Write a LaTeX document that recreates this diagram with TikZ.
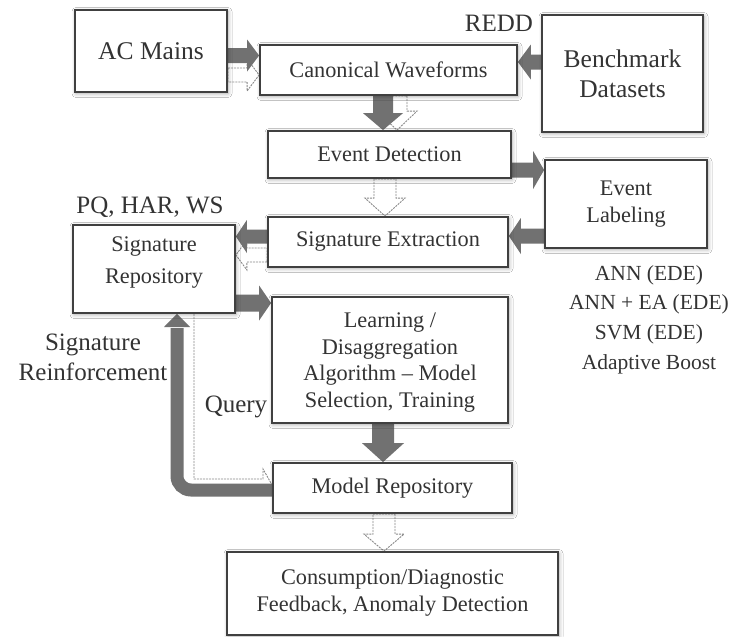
\documentclass[tikz,border=0pt]{standalone}
\usepackage{fontspec}
\IfFontExistsTF{LiberationSerif-Regular.ttf}
  {\setmainfont{LiberationSerif}[Extension=.ttf, UprightFont=*-Regular,
     BoldFont=*-Bold, ItalicFont=*-Italic, BoldItalicFont=*-BoldItalic]}
  {\setmainfont{Liberation Serif}}
\usetikzlibrary{calc,shadows.blur,backgrounds}

\definecolor{boxline}{HTML}{404040}
\definecolor{arrowfill}{HTML}{717171}
\definecolor{hollowline}{HTML}{8A8A8A}
\definecolor{textgray}{HTML}{333333}

% Block arrow: style, start, tip, shaft half-width, head half-width, head length
\newcommand\blockarrow[6]{%
  \coordinate (ba-base) at ($(#3)!#6!(#2)$);
  \path[#1] ($(#2)!#4!90:(#3)$) -- ($(ba-base)!#4!90:(#3)$)
    -- ($(ba-base)!#5!90:(#3)$) -- (#3) -- ($(ba-base)!#5!-90:(#3)$)
    -- ($(ba-base)!#4!-90:(#3)$) -- ($(#2)!#4!-90:(#3)$) -- cycle;
}

\tikzset{
  box/.style={draw=boxline, line width=1.8pt, fill=white, text=textgray,
    align=center, inner sep=0pt, font=\rmfamily\fontsize{22.3}{27}\selectfont,
    blur shadow={shadow xshift=1pt, shadow yshift=-1.5pt,
      shadow blur radius=4pt, shadow opacity=35}},
  bigbox/.style={box, font=\rmfamily\fontsize{25.5}{30}\selectfont},
  boxtext/.style={text=textgray, align=center, inner sep=0pt,
    font=\rmfamily\fontsize{22.3}{27}\selectfont},
  sidelabel/.style={text=textgray, align=center, inner sep=0pt,
    font=\rmfamily\fontsize{25}{29.7}\selectfont},
  solidarrow/.style={fill=arrowfill},
  hollowarrow/.style={fill=white, draw=hollowline, line width=0.9pt,
    dash pattern=on 2pt off 1pt, line join=miter},
  queryline/.style={draw=hollowline, line width=0.9pt, dash pattern=on 2pt off 1pt},
}

\begin{document}
\begin{tikzpicture}[x=1pt, y=-1pt]
\useasboundingbox (0,0) rectangle (731,637);

% positions used by the connectors
\coordinate (rf-corner) at (177,490);
\coordinate (rf-head) at (177,327);
\coordinate (q-corner) at (194,479);
\coordinate (q-end) at (263,479);
\coordinate (q-notch) at (263,469);

% ---------- boxes ----------
\node[bigbox, minimum width=152pt, minimum height=82pt] (ac) at (151,51) {AC Mains};
\node[box, minimum width=257pt, minimum height=50pt] (cw) at (388.5,70) {Canonical Waveforms};
\node[bigbox, minimum width=161pt, minimum height=117pt] (bd) at (622.5,73.5) {Benchmark\\Datasets};
\node[box, minimum width=243pt, minimum height=47pt] (ed) at (389.5,154.5) {Event Detection};
\node[box, minimum width=162pt, minimum height=88pt] (el) at (626,204) {Event\\Labeling};
\node[box, minimum width=240pt, minimum height=50pt] (se) at (388,242) {Signature Extraction};
\node[box, minimum width=162pt, minimum height=88pt] (sr) at (154,269) {};
\node[boxtext, font=\rmfamily\fontsize{22.3}{31.5}\selectfont] (sr-text) at (154,262.5)
  {Signature\\Repository};
\node[box, minimum width=236pt, minimum height=126pt] (la) at (390,360) {};
\node[boxtext, font=\rmfamily\fontsize{22.3}{26.7}\selectfont] (la-text) at (390,362.5)
  {Learning /\\Disaggregation\\Algorithm -- Model\\Selection, Training};
\node[box, minimum width=239pt, minimum height=50pt] (mr) at (392.5,488) {Model Repository};
\node[box, minimum width=331pt, minimum height=83pt] (cf) at (392.5,593.5)
  {Consumption/Diagnostic\\Feedback, Anomaly Detection};

% ---------- side labels ----------
\node[sidelabel] (redd) at (499,23) {REDD};
\node[sidelabel] (pq) at (150,207) {PQ, HAR, WS};
\node[sidelabel, font=\rmfamily\fontsize{21.5}{29.7}\selectfont] (algs) at (649,319.5)
  {ANN (EDE)\\ANN + EA (EDE)\\SVM (EDE)\\Adaptive Boost};
\node[sidelabel] (reinf) at (93,357.5) {Signature\\Reinforcement};
\node[sidelabel] (query) at (236,407) {Query};

% ---------- connectors, kept beneath the boxes ----------
\begin{pgfonlayer}{background}
\fill[white] (0,0) rectangle (731,637);

% query: dotted path from the signature repository to the model repository
\draw[queryline] (sr.south -| q-corner) -- (q-corner) -- (q-end) -- (q-notch)
  -- (mr.west |- 0,485);

% signature reinforcement: thick bent arrow back to the repository
\draw[arrowfill, line width=13pt, rounded corners=14pt]
  (mr.west |- rf-corner) -- (rf-corner) -- ($(rf-head)+(0,1)$);
\fill[arrowfill] ($(rf-head)+(-13,0)$) -- ($(rf-head)+(13,0)$)
  -- (sr.south -| rf-head) -- cycle;

% hollow (secondary) arrows
\blockarrow{hollowarrow}{$(ac.east |- 0,75)$}{$(cw.west |- 0,75)$}{7pt}{16pt}{12pt}
\blockarrow{hollowarrow}{$(cw.south -| 397,0)$}{$(ed.north -| 397,0)$}{10pt}{20pt}{19pt}
\blockarrow{hollowarrow}{$(ed.south -| 385,0)$}{$(se.north -| 385,0)$}{11pt}{20pt}{18pt}
\blockarrow{hollowarrow}{$(se.west |- 0,255)$}{$(sr.east |- 0,255)$}{7pt}{15pt}{11pt}
\blockarrow{hollowarrow}{$(mr.south -| 384,0)$}{$(cf.north -| 384,0)$}{11pt}{20pt}{17pt}

% filled (primary) arrows
\blockarrow{solidarrow}{$(ac.east |- 0,55.5)$}{$(cw.west |- 0,55.5)$}{7.5pt}{16pt}{12pt}
\blockarrow{solidarrow}{$(bd.west |- 0,62)$}{$(cw.east |- 0,62)$}{7.5pt}{17.5pt}{13pt}
\blockarrow{solidarrow}{$(cw.south -| 383,0)$}{$(ed.north -| 383,0)$}{10pt}{20pt}{17pt}
\blockarrow{solidarrow}{$(ed.east |- 0,170)$}{$(el.west |- 0,170)$}{7.5pt}{19pt}{11pt}
\blockarrow{solidarrow}{$(el.west |- 0,236)$}{$(se.east |- 0,236)$}{7.5pt}{18pt}{12pt}
\blockarrow{solidarrow}{$(se.west |- 0,236.5)$}{$(sr.east |- 0,236.5)$}{7pt}{16.5pt}{11pt}
\blockarrow{solidarrow}{$(sr.east |- 0,303)$}{$(la.west |- 0,303)$}{8.5pt}{17.5pt}{12pt}
\blockarrow{solidarrow}{$(la.south -| 383,0)$}{$(mr.north -| 383,0)$}{11pt}{21pt}{19pt}
\end{pgfonlayer}
\end{tikzpicture}
\end{document}
